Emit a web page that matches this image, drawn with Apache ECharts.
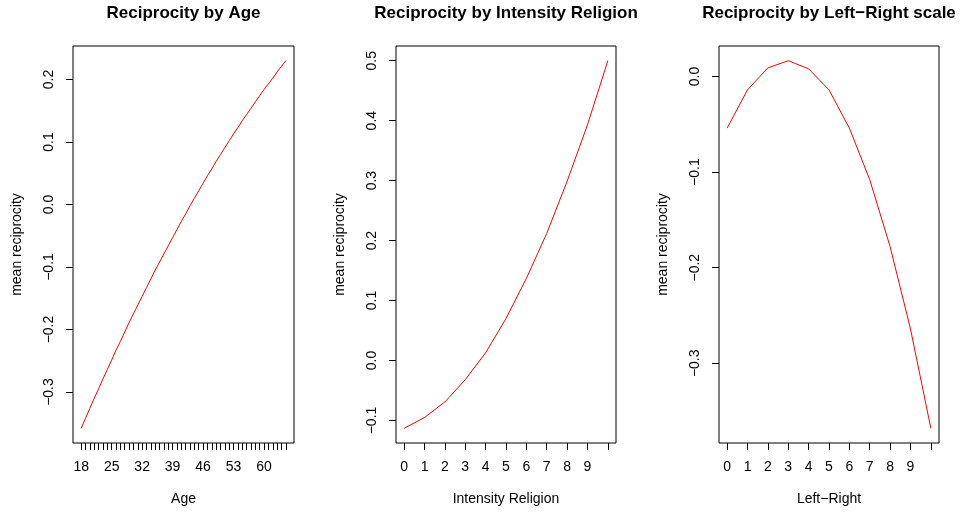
<!DOCTYPE html>
<html>
<head>
<meta charset="utf-8">
<script src="https://cdn.jsdelivr.net/npm/echarts@6/dist/echarts.min.js"></script>
<style>
  html, body { margin: 0; padding: 0; background: #fff; }
  #chart { width: 963px; height: 515px; }
</style>
</head>
<body>
<div id="chart"></div>
<script>
// Panel 1: mean reciprocity by age (18..65)
const ages = [18,19,20,21,22,23,24,25,26,27,28,29,30,31,32,33,34,35,36,37,38,39,40,41,
              42,43,44,45,46,47,48,49,50,51,52,53,54,55,56,57,58,59,60,61,62,63,64,65];
const ageRecip = [-0.358,-0.342,-0.326,-0.310,-0.295,-0.279,-0.264,-0.249,-0.233,-0.219,
                  -0.204,-0.189,-0.175,-0.161,-0.147,-0.133,-0.119,-0.105,-0.092,-0.079,
                  -0.066,-0.053,-0.040,-0.027,-0.015,-0.002,0.010,0.022,0.034,0.046,
                  0.057,0.069,0.080,0.091,0.102,0.113,0.123,0.134,0.144,0.154,
                  0.164,0.174,0.184,0.193,0.202,0.212,0.221,0.230];
const ageLabels = [18,25,32,39,46,53,60];

// Panel 2: mean reciprocity by intensity of religion (0..10)
const relig = [0,1,2,3,4,5,6,7,8,9,10];
const religRecip = [-0.113,-0.095,-0.069,-0.032,0.013,0.070,0.137,0.212,0.299,0.393,0.500];

// Panel 3: mean reciprocity by left-right self placement (0..10)
const leftRight = [0,1,2,3,4,5,6,7,8,9,10];
const lrRecip = [-0.054,-0.014,0.009,0.0165,0.008,-0.014,-0.054,-0.108,-0.178,-0.264,-0.368];

const scaleLabels = [0,1,2,3,4,5,6,7,8,9];

const yTicks1 = [-0.3,-0.2,-0.1,0.0,0.1,0.2];
const yTicks2 = [-0.1,0.0,0.1,0.2,0.3,0.4,0.5];
const yTicks3 = [-0.3,-0.2,-0.1,0.0];

const titles = ['Reciprocity by Age', 'Reciprocity by Intensity Religion', 'Reciprocity by Left\u2212Right scale'];
const xNames = ['Age', 'Intensity Religion', 'Left\u2212Right'];
const yName = 'mean reciprocity';

const FONT = '"Liberation Sans", Arial, Helvetica, sans-serif';
const BASE = 14;

// R-style 4% padding around the data range
function padded(vals) {
  const lo = Math.min(...vals), hi = Math.max(...vals);
  const d = (hi - lo) * 0.04;
  return [lo - d, hi + d];
}

const grids = [
  { left: 73, top: 46, width: 221, height: 397 },
  { left: 396, top: 46, width: 220, height: 397 },
  { left: 719, top: 46, width: 220, height: 397 }
];

const xDefs = [
  { vals: ages, ticks: ages, labels: ageLabels },
  { vals: relig, ticks: relig, labels: scaleLabels },
  { vals: leftRight, ticks: leftRight, labels: scaleLabels }
];
const yDefs = [
  { vals: ageRecip, ticks: yTicks1 },
  { vals: religRecip, ticks: yTicks2 },
  { vals: lrRecip, ticks: yTicks3 }
];
const seriesData = [
  ages.map((a, i) => [a, ageRecip[i]]),
  relig.map((a, i) => [a, religRecip[i]]),
  leftRight.map((a, i) => [a, lrRecip[i]])
];

const fmtY = v => {
  const s = (Math.round(v * 10) / 10).toFixed(1);
  return s.replace('-', '\u2212');
};

const option = {
  animation: false,
  backgroundColor: '#fff',
  textStyle: { fontFamily: FONT },
  title: grids.map((g, i) => ({
    text: titles[i],
    left: g.left + g.width / 2,
    textAlign: 'center',
    top: 5,
    padding: 0,
    textStyle: { fontFamily: FONT, fontWeight: 'bold', fontSize: 17, color: '#000' }
  })),
  grid: grids.map(g => Object.assign({ show: true, borderColor: '#000', borderWidth: 1, backgroundColor: 'transparent' }, g)),
  xAxis: xDefs.map((d, i) => {
    const r = padded(d.vals);
    return {
      type: 'value', gridIndex: i, min: r[0], max: r[1],
      name: xNames[i], nameLocation: 'middle', nameGap: 49,
      nameTextStyle: { fontFamily: FONT, fontSize: BASE, color: '#000' },
      axisLine: { show: false, onZero: false },
      splitLine: { show: false },
      axisTick: { show: true, length: 7, customValues: d.ticks, lineStyle: { color: '#000', width: 1 } },
      axisLabel: { customValues: d.labels, margin: 17, fontFamily: FONT, fontSize: BASE, color: '#000',
                   formatter: v => String(v) }
    };
  }),
  yAxis: yDefs.map((d, i) => {
    const r = padded(d.vals);
    return {
      type: 'value', gridIndex: i, min: r[0], max: r[1],
      name: yName, nameLocation: 'middle', nameGap: 49,
      nameTextStyle: { fontFamily: FONT, fontSize: BASE, color: '#000' },
      axisLine: { show: false, onZero: false },
      splitLine: { show: false },
      axisTick: { show: true, length: 7, customValues: d.ticks, lineStyle: { color: '#000', width: 1 } },
      axisLabel: { customValues: d.ticks, rotate: 90, margin: 17, fontFamily: FONT, fontSize: BASE, color: '#000',
                   formatter: fmtY }
    };
  }),
  series: seriesData.map((data, i) => ({
    type: 'line', xAxisIndex: i, yAxisIndex: i, data: data,
    symbol: 'none', smooth: false,
    lineStyle: { color: '#ff0000', width: 1 }
  }))
};

const chart = echarts.init(document.getElementById('chart'), null, { renderer: 'canvas' });
chart.setOption(option);
</script>
</body>
</html>
